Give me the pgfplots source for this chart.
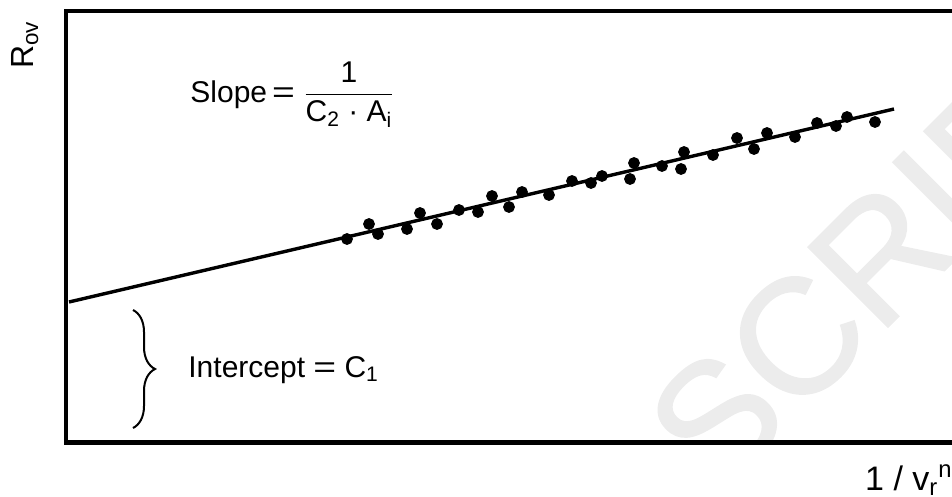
\documentclass[border=0pt]{standalone}
\usepackage{fontspec}
\setmainfont{Liberation Sans}
\newfontfamily\wmfont[FakeBold=1]{Liberation Sans}
\usepackage{graphicx}
\usepackage{pgfplots}
\pgfplotsset{compat=1.18}
\usetikzlibrary{decorations.pathreplacing}

\newcommand{\eq}{\scalebox{1.3}[1]{=}}

\begin{document}
\begin{tikzpicture}[x=0.5pt, y=-0.5pt]
% watermark, behind everything, cut at the bottom axis line
\begin{scope}
\clip (0,0) rectangle (952,442);
\node[rotate=45, text=gray!15, inner sep=0,
      font=\wmfont\fontsize{82}{82}\selectfont] at (890,245) {SCRIPT};
\end{scope}

\begin{axis}[
  at={(33pt,-221.25pt)}, anchor=south west,
  scale only axis,
  width=447pt, height=215.75pt,
  xmin=66, xmax=960,
  ymin=11, ymax=442.5,
  y dir=reverse,
  ticks=none,
  axis line style={line width=2.2pt},
  clip=false,
]
% fitted line
\addplot[black, line width=1.7pt, no marks] coordinates {(69,302) (894,109)};
% measured points
\addplot[black, only marks, mark=*, mark size=2.75pt] coordinates {
  (347,239) (369,224) (378,234) (407,229) (420,213) (437,224)
  (459,210) (478,212) (492,196) (509,207) (522,192) (549,195)
  (572,181) (591,183) (602,176) (630,179) (634,163) (662,166)
  (681,169) (684,152) (713,155) (737,138) (754,149) (767,133)
  (795,137) (817,123) (836,126) (847,117) (875,122)
};

\node[anchor=base west, inner sep=0, font=\fontsize{15}{18}\selectfont]
  at (axis cs:190,102)
  {Slope\,\eq\ $\displaystyle\frac{\mbox{1}}{\mbox{C\textsubscript{2} · A\textsubscript{i}}}$};

\draw[line width=1pt, decorate, decoration={brace, amplitude=11pt}]
  (axis cs:133,310) -- (axis cs:133,428);
\node[anchor=base west, inner sep=0, font=\fontsize{15}{18}\selectfont]
  at (axis cs:188,377) {Intercept\ \eq\ C\textsubscript{1}};
\end{axis}

% axis labels
\node[rotate=90, anchor=base, inner sep=0, font=\fontsize{16}{18}\selectfont]
  at (33,45) {R\textsubscript{ov}};
\node[anchor=base east, inner sep=0, font=\fontsize{17}{20}\selectfont]
  at (953,490) {1\ /\ v\textsubscript{r}\textsuperscript{n}};

\pgfresetboundingbox
\path[use as bounding box] (0,0) rectangle (952,497);
\end{tikzpicture}
\end{document}
